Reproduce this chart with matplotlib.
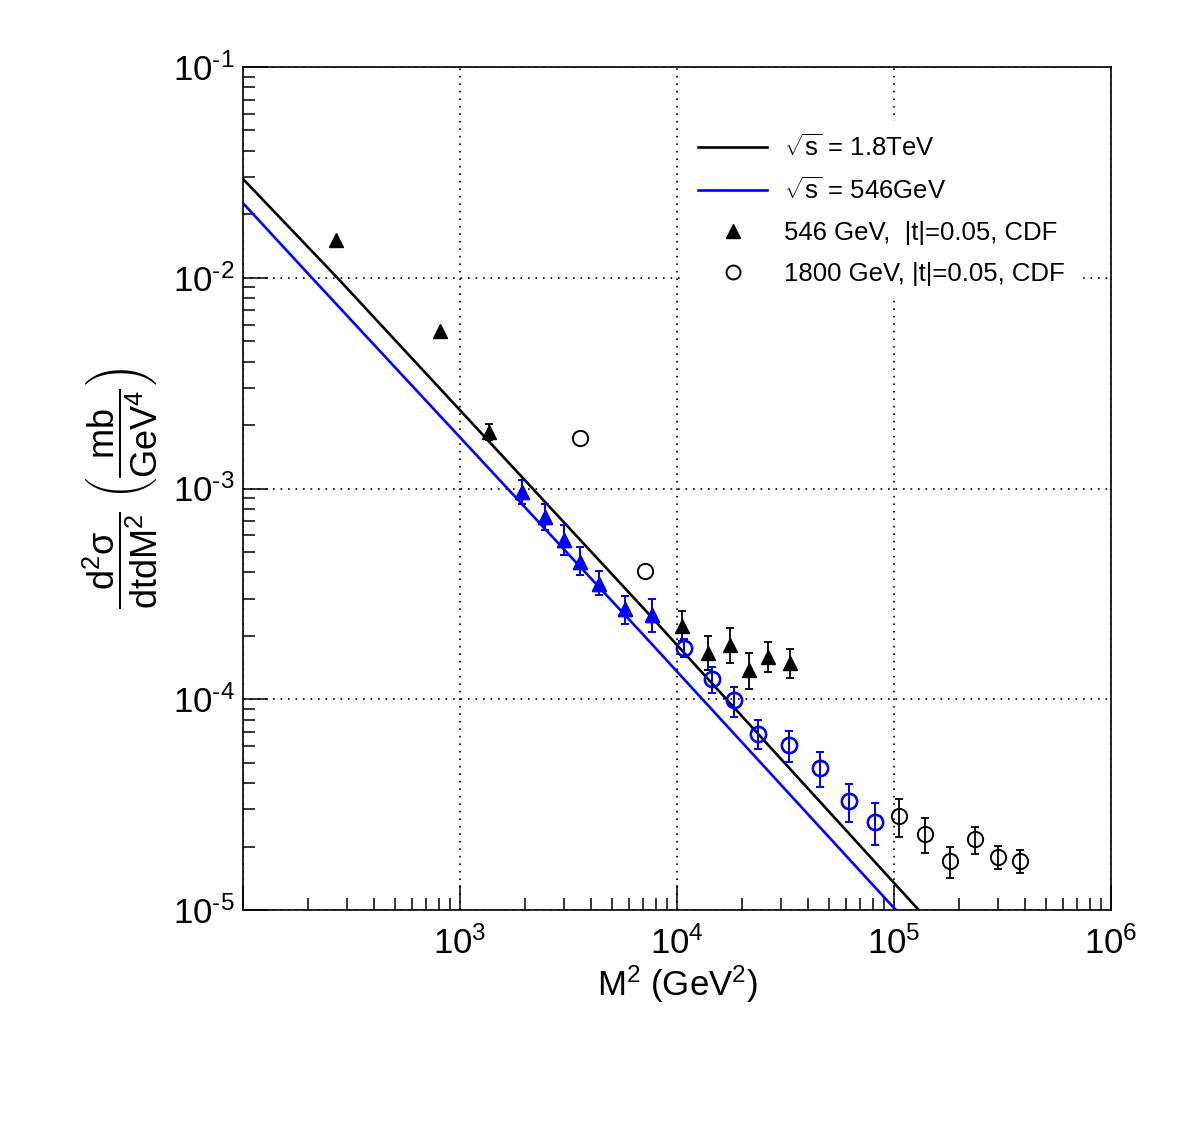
import numpy as np
import matplotlib
matplotlib.use('Agg')
import matplotlib.pyplot as plt
from matplotlib.lines import Line2D
from matplotlib.ticker import FixedLocator, LogLocator, NullFormatter, FuncFormatter

plt.rcParams['font.family'] = ['Liberation Sans', 'DejaVu Sans']
plt.rcParams['mathtext.fontset'] = 'custom'
plt.rcParams['mathtext.rm'] = 'Liberation Sans'
plt.rcParams['mathtext.it'] = 'Liberation Sans:italic'
plt.rcParams['mathtext.bf'] = 'Liberation Sans:bold'
plt.rcParams['mathtext.default'] = 'regular'

# 546 GeV, |t|=0.05, CDF  (M^2 in GeV^2, d2sigma/dtdM2 in mb/GeV^4)
m2_546 = [268.6, 810.6, 1364, 1937, 2474, 3027, 3587, 4389, 5785, 7709,
          1.049e4, 1.383e4, 1.747e4, 2.138e4, 2.615e4, 3.304e4]
xs_546 = [1.510e-2, 5.59e-3, 1.853e-3, 9.62e-4, 7.33e-4, 5.70e-4, 4.48e-4, 3.52e-4, 2.68e-4, 2.51e-4,
          2.23e-4, 1.66e-4, 1.81e-4, 1.376e-4, 1.586e-4, 1.486e-4]
hi_546 = [1.510e-2, 5.59e-3, 2.02e-3, 1.10e-3, 8.45e-4, 6.71e-4, 5.28e-4, 4.06e-4, 3.09e-4, 2.99e-4,
          2.62e-4, 1.995e-4, 2.18e-4, 1.66e-4, 1.87e-4, 1.73e-4]
lo_546 = [1.510e-2, 5.59e-3, 1.70e-3, 8.4e-4, 6.36e-4, 4.84e-4, 3.89e-4, 3.12e-4, 2.28e-4, 2.08e-4,
          1.89e-4, 1.376e-4, 1.486e-4, 1.118e-4, 1.346e-4, 1.261e-4]
fit_546 = slice(3, 10)   # points shown in blue

# 1800 GeV, |t|=0.05, CDF
m2_1800 = [3587, 7155, 1.072e4, 1.443e4, 1.823e4, 2.352e4, 3.27e4, 4.545e4, 6.18e4, 8.15e4,
           1.052e5, 1.387e5, 1.808e5, 2.358e5, 3.01e5, 3.80e5]
xs_1800 = [1.736e-3, 4.06e-4, 1.75e-4, 1.248e-4, 9.92e-5, 6.84e-5, 6.07e-5, 4.72e-5, 3.29e-5, 2.62e-5,
           2.79e-5, 2.29e-5, 1.708e-5, 2.17e-5, 1.784e-5, 1.708e-5]
hi_1800 = [1.736e-3, 4.06e-4, 1.93e-4, 1.42e-4, 1.143e-4, 7.97e-5, 7.09e-5, 5.62e-5, 3.96e-5, 3.22e-5,
           3.36e-5, 2.73e-5, 1.99e-5, 2.48e-5, 2.01e-5, 1.925e-5]
lo_1800 = [1.736e-3, 4.06e-4, 1.59e-4, 1.071e-4, 8.24e-5, 5.81e-5, 5.05e-5, 3.83e-5, 2.62e-5, 2.03e-5,
           2.22e-5, 1.865e-5, 1.418e-5, 1.844e-5, 1.565e-5, 1.498e-5]
fit_1800 = slice(2, 10)

# model curves
m2_th18 = [100, 272, 6790, 1.30e5]
xs_th18 = [2.944e-2, 1.0e-2, 2.80e-4, 1.0e-5]
m2_th546 = [100, 207.6, 6790, 1.02e5]
xs_th546 = [2.26e-2, 1.0e-2, 2.09e-4, 1.0e-5]

BLUE = '#0000ff'


def draw_points(ax, x, y, lo, hi, sel, color, **kw):
    x, y, lo, hi = [np.asarray(a, dtype=float)[sel] for a in (x, y, lo, hi)]
    ax.plot(x, y, ls='none', color=color, **kw)
    has = hi > lo
    ax.errorbar(x[has], y[has], yerr=np.vstack([y[has] - lo[has], hi[has] - y[has]]),
                fmt='none', ecolor=color, elinewidth=1.3, capsize=3, capthick=1.3,
                zorder=kw.get('zorder', 4))


fig = plt.figure(figsize=(11.82, 11.46), dpi=100)
ax = fig.add_axes([243 / 1182, 1 - 910 / 1146, 868 / 1182, 843 / 1146])

ax.plot(m2_th18, xs_th18, color='black', lw=1.9, zorder=3)
ax.plot(m2_th546, xs_th546, color=BLUE, lw=1.9, zorder=3)

everything = slice(None)
draw_points(ax, m2_546, xs_546, lo_546, hi_546, everything, 'black',
            marker='^', ms=9.5, zorder=4)
draw_points(ax, m2_546, xs_546, lo_546, hi_546, fit_546, BLUE,
            marker='^', ms=10.5, zorder=5)
draw_points(ax, m2_1800, xs_1800, lo_1800, hi_1800, everything, 'black',
            marker='o', mfc='none', ms=11, mew=1.4, zorder=4)
draw_points(ax, m2_1800, xs_1800, lo_1800, hi_1800, fit_1800, BLUE,
            marker='o', mfc='none', ms=11, mew=1.8, zorder=5)

ax.set_xscale('log')
ax.set_yscale('log')
ax.set_xlim(100, 1e6)
ax.set_ylim(1e-5, 1e-1)


def dec_label(v, p):
    n = int(round(np.log10(v)))
    s = str(n).replace('-', '\u2010')
    return r'$10^{%s}$' % s


ax.xaxis.set_major_locator(FixedLocator([1e2, 1e3, 1e4, 1e5, 1e6]))
ax.xaxis.set_minor_locator(LogLocator(base=10, subs=np.arange(2, 10), numticks=20))
ax.yaxis.set_major_locator(FixedLocator([1e-5, 1e-4, 1e-3, 1e-2, 1e-1]))
ax.yaxis.set_minor_locator(LogLocator(base=10, subs=np.arange(2, 10), numticks=20))
ax.xaxis.set_minor_formatter(NullFormatter())
ax.yaxis.set_minor_formatter(NullFormatter())
ax.xaxis.set_major_formatter(FuncFormatter(lambda v, p: '' if v < 500 else dec_label(v, p)))
ax.yaxis.set_major_formatter(FuncFormatter(dec_label))

ax.tick_params(which='both', direction='in', top=False, right=False, width=1.1, labelsize=25)
ax.tick_params(which='major', length=18)
ax.tick_params(which='minor', length=8.5)
ax.tick_params(axis='x', which='major', pad=12)
ax.tick_params(axis='y', which='major', pad=6)
for s in ax.spines.values():
    s.set_linewidth(1.2)

ax.grid(which='major', ls=(0, (1, 3.5)), color='black', lw=1.2)
ax.set_axisbelow(True)

ax.set_xlabel(r'$M^{2}$ (GeV$^{2}$)', fontsize=25)
ax.xaxis.set_label_coords(0.5, -0.064)
ax.set_ylabel(r'$\dfrac{d^{2}\sigma}{dtdM^{2}}\ \left(\dfrac{mb}{GeV^{4}}\right)$', fontsize=26)
ax.yaxis.set_label_coords(-0.096, 0.5)

handles = [
    Line2D([], [], color='black', lw=1.9),
    Line2D([], [], color=BLUE, lw=1.9),
    Line2D([], [], ls='none', marker='^', color='black', ms=9.5),
    Line2D([], [], ls='none', marker='o', color='black', mfc='none', ms=10, mew=1.4),
]
labels = [r'$\sqrt{s}$ = 1.8TeV', r'$\sqrt{s}$ = 546GeV',
          '546 GeV,  |t|=0.05, CDF', '1800 GeV, |t|=0.05, CDF']
leg = ax.legend(handles, labels, loc='upper left', fontsize=18.5,
                frameon=True, fancybox=False, facecolor='white', edgecolor='none',
                framealpha=1.0,
                bbox_to_anchor=((698 - 13) / 1182, 1 - (134 - 13) / 1146),
                bbox_transform=fig.transFigure,
                borderpad=0.5, borderaxespad=0, handlelength=2.7, handletextpad=0.65,
                labelspacing=0.66)
leg.set_zorder(6)

fig.savefig('out.png', dpi=100)
